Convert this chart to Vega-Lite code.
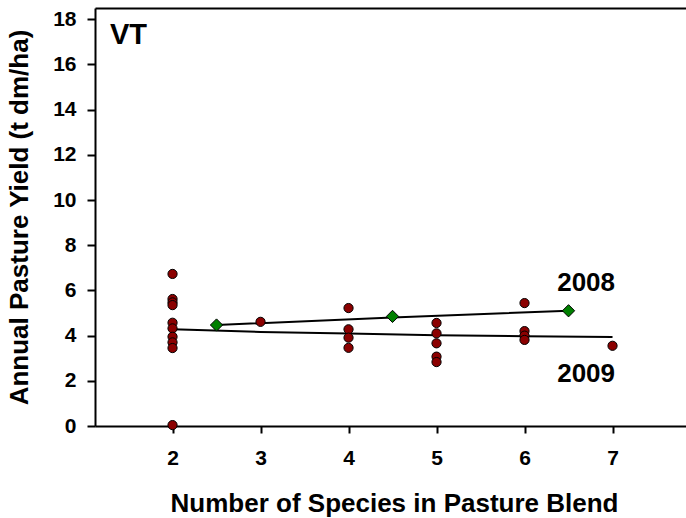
{
  "$schema": "https://vega.github.io/schema/vega-lite/v6.json",
  "width": 591,
  "height": 418,
  "autosize": {"type": "none"},
  "padding": {"left": 95, "top": 8, "right": 0, "bottom": 92},
  "background": "white",
  "config": {
    "view": {"stroke": null},
    "font": "Liberation Sans",
    "axis": {
      "grid": false,
      "domainColor": "black",
      "domainWidth": 2,
      "tickColor": "black",
      "tickWidth": 2,
      "tickSize": 7,
      "labelFont": "Liberation Sans",
      "labelFontWeight": "bold",
      "labelFontSize": 21,
      "labelColor": "black",
      "titleFont": "Liberation Sans",
      "titleFontWeight": "bold",
      "titleColor": "black"
    }
  },
  "datasets": {
    "pts2009": [
      {"species": 2, "yield": 6.73}, {"species": 2, "yield": 5.62}, {"species": 2, "yield": 5.47},
      {"species": 2, "yield": 5.35}, {"species": 2, "yield": 4.57}, {"species": 2, "yield": 4.32},
      {"species": 2, "yield": 3.95}, {"species": 2, "yield": 3.70}, {"species": 2, "yield": 3.45},
      {"species": 2, "yield": 0.04},
      {"species": 3, "yield": 4.61},
      {"species": 4, "yield": 5.22}, {"species": 4, "yield": 4.28}, {"species": 4, "yield": 3.91},
      {"species": 4, "yield": 3.46},
      {"species": 5, "yield": 4.56}, {"species": 5, "yield": 4.10}, {"species": 5, "yield": 3.66},
      {"species": 5, "yield": 3.07}, {"species": 5, "yield": 2.83},
      {"species": 6, "yield": 5.44}, {"species": 6, "yield": 4.20}, {"species": 6, "yield": 4.00},
      {"species": 6, "yield": 3.81},
      {"species": 7, "yield": 3.55}
    ],
    "fit2009": [
      {"species": 2, "yield": 4.28}, {"species": 3, "yield": 4.16}, {"species": 4, "yield": 4.09},
      {"species": 5, "yield": 4.02}, {"species": 6, "yield": 3.97}, {"species": 7, "yield": 3.94}
    ],
    "means2008": [
      {"species": 2.5, "yield": 4.47}, {"species": 4.5, "yield": 4.85}, {"species": 6.5, "yield": 5.10}
    ],
    "fit2008": [
      {"species": 2.5, "yield": 4.47}, {"species": 4.5, "yield": 4.80}, {"species": 6.5, "yield": 5.10}
    ],
    "yearLabels": [
      {"species": 6.70, "yield": 6.34, "label": "2008"},
      {"species": 6.70, "yield": 2.29, "label": "2009"}
    ],
    "site": [
      {"species": 1.50, "yield": 17.32, "label": "VT"}
    ]
  },
  "resolve": {"axis": {"x": "independent"}},
  "layer": [
    {
      "data": {"name": "fit2009"},
      "mark": {"type": "line", "color": "black", "strokeWidth": 2},
      "encoding": {
        "x": {
          "field": "species", "type": "quantitative",
          "scale": {"domain": [1.119, 7.835], "nice": false, "zero": false},
          "axis": {
            "orient": "bottom",
            "values": [2, 3, 4, 5, 6, 7],
            "labelPadding": 14,
            "title": "Number of Species in Pasture Blend",
            "titleFontSize": 26,
            "titleBaseline": "alphabetic",
            "titleX": 299,
            "titleY": 85
          }
        },
        "y": {
          "field": "yield", "type": "quantitative",
          "scale": {"domain": [0, 18.5], "nice": false, "zero": false},
          "axis": {
            "values": [0, 2, 4, 6, 8, 10, 12, 14, 16, 18],
            "tickSize": 8,
            "labelPadding": 11,
            "title": "Annual Pasture Yield (t dm/ha)",
            "titleFontSize": 26,
            "titleBaseline": "alphabetic",
            "titleAngle": -90,
            "titleX": -68,
            "titleY": 209
          }
        }
      }
    },
    {
      "data": {"name": "fit2008"},
      "mark": {"type": "line", "color": "black", "strokeWidth": 2},
      "encoding": {
        "x": {
          "field": "species", "type": "quantitative",
          "axis": {"orient": "top", "labels": false, "ticks": false, "title": null}
        },
        "y": {"field": "yield", "type": "quantitative"}
      }
    },
    {
      "data": {"name": "pts2009"},
      "mark": {"type": "point", "shape": "circle", "filled": true, "fill": "#8B0000", "stroke": "black", "strokeWidth": 1, "size": 85, "opacity": 1},
      "encoding": {
        "x": {"field": "species", "type": "quantitative", "axis": null},
        "y": {"field": "yield", "type": "quantitative"}
      }
    },
    {
      "data": {"name": "means2008"},
      "mark": {"type": "point", "shape": "diamond", "filled": true, "fill": "#008000", "stroke": "black", "strokeWidth": 1, "size": 150, "opacity": 1},
      "encoding": {
        "x": {"field": "species", "type": "quantitative", "axis": null},
        "y": {"field": "yield", "type": "quantitative"}
      }
    },
    {
      "data": {"name": "yearLabels"},
      "mark": {"type": "text", "font": "Liberation Sans", "fontWeight": "bold", "fontSize": 26, "color": "black", "align": "center", "baseline": "middle"},
      "encoding": {
        "x": {"field": "species", "type": "quantitative", "axis": null},
        "y": {"field": "yield", "type": "quantitative"},
        "text": {"field": "label"}
      }
    },
    {
      "data": {"name": "site"},
      "mark": {"type": "text", "font": "Liberation Sans", "fontWeight": "bold", "fontSize": 29, "color": "black", "align": "center", "baseline": "middle"},
      "encoding": {
        "x": {"field": "species", "type": "quantitative", "axis": null},
        "y": {"field": "yield", "type": "quantitative"},
        "text": {"field": "label"}
      }
    }
  ]
}
